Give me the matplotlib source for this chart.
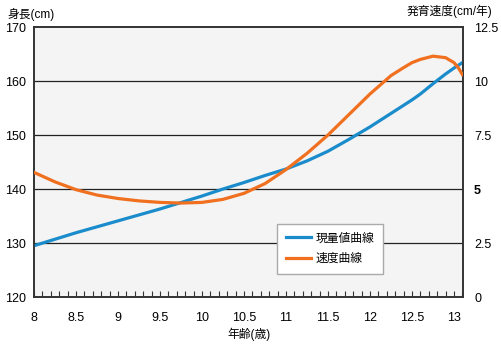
import matplotlib
matplotlib.use('Agg')
import matplotlib.pyplot as plt
from matplotlib.ticker import MultipleLocator

plt.rcParams['font.family'] = ['Liberation Sans', 'Noto Sans CJK JP']

# 年齢(歳)
age = [8.0, 8.25, 8.5, 8.75, 9.0, 9.25, 9.5, 9.75, 10.0, 10.25, 10.5, 10.75,
       11.0, 11.25, 11.5, 11.75, 12.0, 12.25, 12.4, 12.5, 12.6, 12.75, 12.9,
       13.0, 13.05, 13.1]
# 現量値曲線 (cm)
height = [129.5, 130.7, 131.9, 133.0, 134.1, 135.2, 136.3, 137.5, 138.7, 140.0,
          141.2, 142.5, 143.7, 145.2, 147.0, 149.2, 151.5, 154.0, 155.5, 156.5,
          157.6, 159.5, 161.3, 162.4, 162.9, 163.4]
# 速度曲線 (cm/年)
speed = [5.77, 5.33, 4.97, 4.72, 4.56, 4.45, 4.38, 4.35, 4.38, 4.52,
         4.80, 5.25, 5.90, 6.65, 7.50, 8.45, 9.40, 10.25, 10.62, 10.85, 11.0,
         11.15, 11.08, 10.85, 10.62, 10.3]

x_ticks = [8, 8.5, 9, 9.5, 10, 10.5, 11, 11.5, 12, 12.5, 13]
x_labels = ['8', '8.5', '9', '9.5', '10', '10.5', '11', '11.5', '12', '12.5', '13']
h_ticks = [120, 130, 140, 150, 160, 170]
s_ticks = [0, 2.5, 5, 7.5, 10, 12.5]
s_labels = ['0', '2.5', '5', '7.5', '10', '12.5']

blue = '#1b8ccb'
orange = '#f07020'

fig = plt.figure(figsize=(5.02, 3.44), dpi=100)
ax = fig.add_axes([0.0677, 0.1366, 0.8546, 0.7849])
ax.set_facecolor('#f4f4f4')
ax2 = ax.twinx()

for y in h_ticks[1:-1]:
    ax.axhline(y, color='#222222', lw=0.9, zorder=1)

l1, = ax.plot(age, height, color=blue, lw=2.3, label='現量値曲線', zorder=3)
l2, = ax2.plot(age, speed, color=orange, lw=2.3, label='速度曲線', zorder=3)

ax.set_xlim(8, 13.107)
ax.set_ylim(120, 170)
ax2.set_ylim(0, 12.5)

ax.set_xticks(x_ticks)
ax.set_xticklabels(x_labels)
ax.xaxis.set_minor_locator(MultipleLocator(0.1))
ax.tick_params(axis='x', which='both', direction='in', length=4, width=0.8,
               color='#333333', pad=11, labelsize=9)
ax.set_yticks(h_ticks)
ax.tick_params(axis='y', length=0, pad=6, labelsize=9)
ax2.set_yticks(s_ticks)
ax2.set_yticklabels(s_labels)
ax2.tick_params(axis='y', length=0, pad=8, labelsize=9)
ax2.get_yticklabels()[2].set_fontweight('bold')

for a in (ax, ax2):
    for s in a.spines.values():
        s.set_color('#333333')
        s.set_linewidth(1.2)

leg = ax.legend(handles=[l1, l2], loc='upper left', bbox_to_anchor=(0.5664, 0.2715),
                fontsize=8.5, frameon=True, fancybox=False, borderpad=0.75,
                handlelength=2.1, handletextpad=0.4, labelspacing=0.7,
                borderaxespad=0)
leg.get_frame().set_edgecolor('#aaaaaa')
leg.get_frame().set_facecolor('white')
leg.get_frame().set_alpha(1)
leg.get_frame().set_linewidth(1.0)
leg.set_zorder(5)

fig.text(0.014, 0.978, '身長(cm)', fontsize=8.5, ha='left', va='top')
fig.text(0.98, 0.985, '発育速度(cm/年)', fontsize=8.5, ha='right', va='top')
fig.text(0.496, 0.008, '年齢(歳)', fontsize=8.5, ha='center', va='bottom')

fig.savefig('out.png', dpi=100)
